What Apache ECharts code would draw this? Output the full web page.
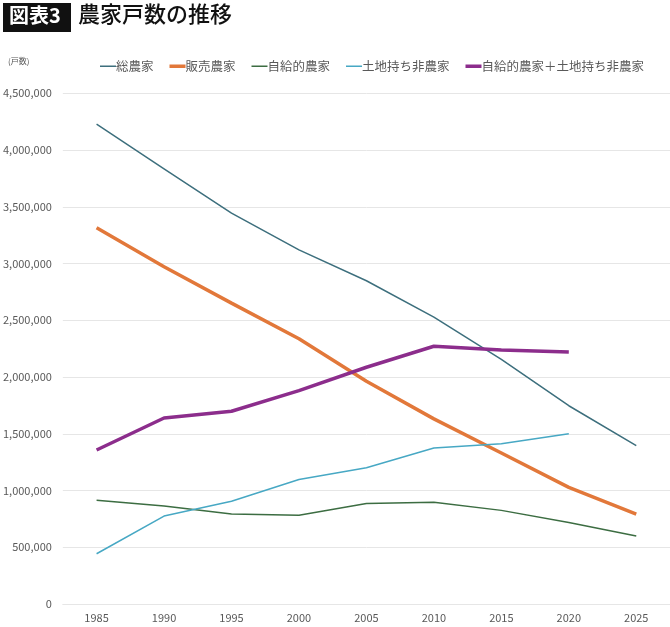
<!DOCTYPE html>
<html><head><meta charset="utf-8">
<script src="https://cdn.jsdelivr.net/npm/echarts@6/dist/echarts.min.js"></script>
<style>html,body{margin:0;padding:0;background:#fff}#c{width:670px;height:627px}</style>
</head><body><div id="c"></div>
<script>
const years = ['1985','1990','1995','2000','2005','2010','2015','2020','2025'];
const souNouka = [4229000,3835000,3444000,3120000,2848000,2528000,2155000,1747000,1395000];
const hanbaiNouka = [3315000,2971000,2651000,2337000,1963000,1631000,1330000,1028000,793000];
const jikyuNouka = [914000,864000,792000,783000,885000,897000,825000,719000,600000];
const tochimochi = [443000,775000,906000,1097000,1201000,1374000,1413000,1500000,null];
const jikyuPlusTochi = [1357000,1639000,1698000,1880000,2086000,2271000,2238000,2221000,null];
const seriesNames = ['総農家','販売農家','自給的農家','土地持ち非農家','自給的農家＋土地持ち非農家'];

const FONT = '"Noto Sans CJK JP", "Noto Sans", sans-serif';
const THIN = 'path://M0,0h16v0.01h-16zM0,4.2h16v1.6h-16zM0,9.99h16v0.01h-16z';
const THICK = 'path://M0,0h16v0.01h-16zM0,3.2h16v3.6h-16zM0,9.99h16v0.01h-16z';
const chart = echarts.init(document.getElementById('c'));
function mk(name, data, color, w){
  return {name, type:'line', data, symbol:'none', showSymbol:false, smooth:false,
    lineStyle:{color, width:w}, itemStyle:{color}, connectNulls:false};
}
chart.setOption({
  animation:false,
  textStyle:{fontFamily:FONT},
  graphic:[
    {type:'rect', left:3, top:3, shape:{width:68,height:29}, style:{fill:'#111'}},
    {type:'text', left:9, top:5, style:{text:'図表3', fill:'#fff', font:'bold 20px '+FONT}},
    {type:'text', left:78, top:3, style:{text:'農家戸数の推移', fill:'#111', font:'500 22px '+FONT}},
    {type:'text', left:8, top:57, style:{text:'(戸数)', fill:'#555', font:'8px '+FONT}}
  ],
  legend:{
    top:55, left:95, itemWidth:16, itemHeight:10, itemGap:16,
    textStyle:{color:'#595959', fontSize:12.5, fontFamily:FONT, padding:[0,0,0,-5]},
    data:[
      {name:seriesNames[0], icon:THIN},
      {name:seriesNames[1], icon:THICK},
      {name:seriesNames[2], icon:THIN},
      {name:seriesNames[3], icon:THIN},
      {name:seriesNames[4], icon:THICK}
    ]
  },
  grid:{left:58.75, right:-5, top:93.3, bottom:23, containLabel:false},
  xAxis:{type:'category', data:years, boundaryGap:true,
    axisLine:{lineStyle:{color:'#e6e6e6'}}, axisTick:{show:false},
    axisLabel:{color:'#595959', fontSize:11, margin:8, fontFamily:FONT}},
  yAxis:{type:'value', min:0, max:4500000, interval:500000,
    axisLine:{show:false}, axisTick:{show:false},
    splitLine:{lineStyle:{color:'#e6e6e6'}},
    axisLabel:{color:'#595959', fontSize:11, margin:11, fontFamily:FONT,
      formatter:v=>v.toLocaleString('en-US')}},
  series:[
    mk(seriesNames[0], souNouka, '#3d6f7d', 1.5),
    mk(seriesNames[1], hanbaiNouka, '#e2783a', 3.5),
    mk(seriesNames[2], jikyuNouka, '#3c6d42', 1.5),
    mk(seriesNames[3], tochimochi, '#47a8c4', 1.5),
    mk(seriesNames[4], jikyuPlusTochi, '#8c2d8c', 3.5)
  ]
});
</script></body></html>
